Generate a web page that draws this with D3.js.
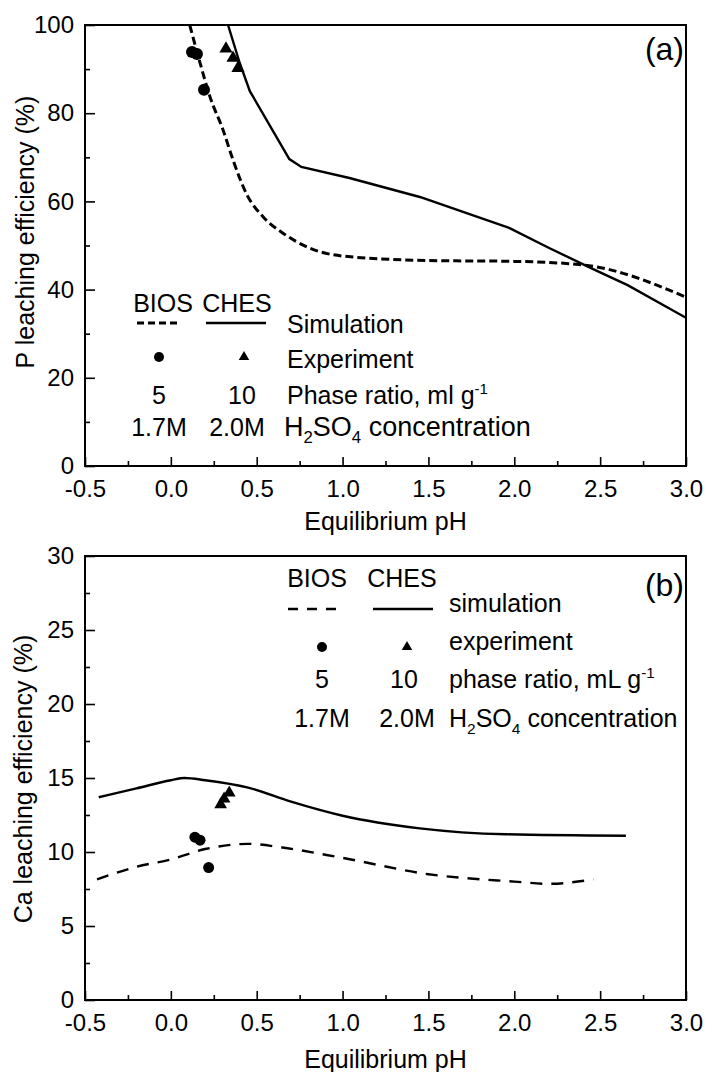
<!DOCTYPE html>
<html><head><meta charset="utf-8">
<script src="https://cdn.jsdelivr.net/npm/d3@7"></script>
<style>body{margin:0;background:#fff}svg{display:block;font-family:"Liberation Sans",Arial,sans-serif}</style>
</head><body><svg id="c" width="707" height="1072"></svg>
<script>
// ---- data ----
const xTicks = [-0.5, 0.0, 0.5, 1.0, 1.5, 2.0, 2.5, 3.0];
const yTicksA = [0, 20, 40, 60, 80, 100];
const yTicksB = [0, 5, 10, 15, 20, 25, 30];

// Panel (a) P leaching
const pA_chesSimPH = [0.333, 0.40, 0.46, 0.69, 0.76, 1.04, 1.45, 1.97, 2.2, 2.45, 2.66, 3.0];
const pA_chesSimY  = [100, 91.5, 85, 69.6, 67.8, 65.3, 61.0, 54.0, 49.5, 44.8, 41.0, 33.6];
const pA_biosSimPH = [0.11, 0.17, 0.228, 0.304, 0.362, 0.443, 0.537, 0.653, 0.81, 1.0, 1.5, 2.0, 2.4, 3.0];
const pA_biosSimY  = [100, 91.4, 83.7, 76.2, 69.4, 61.5, 56.5, 52.8, 49.4, 47.6, 46.6, 46.4, 45.6, 38.3];
const pA_biosExpPH = [0.123, 0.152, 0.193];
const pA_biosExpY  = [93.9, 93.4, 85.3];
const pA_chesExpPH = [0.321, 0.362, 0.391];
const pA_chesExpY  = [94.6, 92.5, 90.2];

// Panel (b) Ca leaching
const pB_chesSimPH = [-0.42, -0.2, 0.0, 0.08, 0.2, 0.45, 0.7, 1.0, 1.45, 1.95, 2.65];
const pB_chesSimY  = [13.7, 14.3, 14.85, 15.0, 14.85, 14.35, 13.4, 12.45, 11.6, 11.2, 11.1];
const pB_biosSimPH = [-0.43, -0.2, 0.0, 0.2, 0.45, 0.65, 1.0, 1.5, 2.0, 2.2, 2.46];
const pB_biosSimY  = [8.15, 9.0, 9.5, 10.2, 10.55, 10.3, 9.6, 8.5, 8.0, 7.85, 8.15];
const pB_biosExpPH = [0.14, 0.17, 0.22];
const pB_biosExpY  = [11.0, 10.8, 8.95];
const pB_chesExpPH = [0.29, 0.31, 0.34];
const pB_chesExpY  = [13.2, 13.6, 14.0];

const legendHeads = ["BIOS", "CHES"];
const legendA = ["Simulation", "Experiment", "Phase ratio, ml g", "concentration"];
const legendB = ["simulation", "experiment", "phase ratio, mL g", "concentration"];
const ratios = ["5", "10"];
const concs = ["1.7M", "2.0M"];

// ---- drawing ----
const svg = d3.select("#c");
const L = 85, R = 686;
const x = d3.scaleLinear().domain([-0.5, 3.0]).range([L, R]);
const xMinor = d3.range(-0.25, 3.0, 0.5);

function panel(cfg) {
  const y = d3.scaleLinear().domain(cfg.ydom).range([cfg.bottom, cfg.top]);
  const g = svg.append("g");
  const clipId = "clip" + cfg.id;
  svg.append("clipPath").attr("id", clipId).append("rect")
    .attr("x", L).attr("y", cfg.top).attr("width", R - L).attr("height", cfg.bottom - cfg.top);

  // axes
  const xa = g.append("g").attr("transform", `translate(0,${cfg.bottom})`)
    .call(d3.axisBottom(x).tickValues(xTicks).tickSizeInner(-9).tickSizeOuter(0).tickPadding(14)
      .tickFormat(d => d.toFixed(1)));
  g.append("g").attr("transform", `translate(0,${cfg.bottom})`)
    .call(d3.axisBottom(x).tickValues(xMinor).tickSizeInner(-5).tickSizeOuter(0).tickFormat(""));
  const ya = g.append("g").attr("transform", `translate(${L},0)`)
    .call(d3.axisLeft(y).tickValues(cfg.yticks).tickSizeInner(-10).tickSizeOuter(0).tickPadding(11));
  g.append("g").attr("transform", `translate(${L},0)`)
    .call(d3.axisLeft(y).tickValues(cfg.yminor).tickSizeInner(-5).tickSizeOuter(0).tickFormat(""));
  g.selectAll(".domain").remove();
  g.selectAll(".tick line").attr("stroke", "#000").attr("stroke-width", 1.6);
  g.selectAll(".tick text").attr("font-size", 24).attr("fill", "#000")
    .attr("font-family", '"Liberation Sans",Arial,sans-serif');

  // frame
  g.append("rect").attr("x", L).attr("y", cfg.top).attr("width", R - L).attr("height", cfg.bottom - cfg.top)
    .attr("fill", "none").attr("stroke", "#000").attr("stroke-width", 2);

  // titles
  g.append("text").attr("x", (L + R) / 2).attr("y", cfg.xTitleY).attr("text-anchor", "middle")
    .attr("font-size", 25).text("Equilibrium pH");
  g.append("text").attr("transform", `translate(${cfg.yTitleX},${cfg.yTitleC}) rotate(-90)`)
    .attr("text-anchor", "middle").attr("font-size", 25).text(cfg.ytitle);
  g.append("text").attr("x", 684).attr("y", cfg.tagY).attr("text-anchor", "end")
    .attr("font-size", 32).text(cfg.tag);

  const plot = g.append("g").attr("clip-path", `url(#${clipId})`);
  const mk = (px, py) => px.map((v, i) => [v, py[i]]);
  const solid = d3.line().x(d => x(d[0])).y(d => y(d[1])).curve(cfg.solidCurve);
  const dash = d3.line().x(d => x(d[0])).y(d => y(d[1])).curve(d3.curveMonotoneX);
  plot.append("path").attr("d", dash(mk(cfg.biosPH, cfg.biosY))).attr("fill", "none")
    .attr("stroke", "#000").attr("stroke-width", cfg.dashW).attr("stroke-dasharray", cfg.dashArr);
  plot.append("path").attr("d", solid(mk(cfg.chesPH, cfg.chesY))).attr("fill", "none")
    .attr("stroke", "#000").attr("stroke-width", 2.4);
  plot.selectAll(".c").data(mk(cfg.bExpPH, cfg.bExpY)).join("circle")
    .attr("cx", d => x(d[0])).attr("cy", d => y(d[1])).attr("r", cfg.dotR).attr("fill", "#000");
  const tri = d3.symbol().type(d3.symbolTriangle).size(cfg.triS);
  plot.selectAll(".t").data(mk(cfg.cExpPH, cfg.cExpY)).join("path")
    .attr("d", tri).attr("transform", d => `translate(${x(d[0])},${y(d[1])})`).attr("fill", "#000");

  // legend
  const lg = cfg.lg;
  const lt = (xx, yy, s, anchor, fs) => g.append("text").attr("x", xx).attr("y", yy)
    .attr("text-anchor", anchor || "start").attr("font-size", fs || 25).text(s);
  lt(lg.c1, lg.headY, legendHeads[0], "middle");
  lt(lg.c2, lg.headY, legendHeads[1], "middle");
  g.append("line").attr("x1", lg.d1[0]).attr("x2", lg.d1[1]).attr("y1", lg.lineY).attr("y2", lg.lineY)
    .attr("stroke", "#000").attr("stroke-width", cfg.dashW).attr("stroke-dasharray", lg.dashArr);
  g.append("line").attr("x1", lg.s1[0]).attr("x2", lg.s1[1]).attr("y1", lg.lineY).attr("y2", lg.lineY)
    .attr("stroke", "#000").attr("stroke-width", 2.4);
  lt(lg.tx, lg.simY, cfg.labels[0]);
  g.append("circle").attr("cx", lg.c1m).attr("cy", lg.expMY).attr("r", 5).attr("fill", "#000");
  g.append("path").attr("d", d3.symbol().type(d3.symbolTriangle).size(48)())
    .attr("transform", `translate(${lg.c2m},${lg.expMY})`).attr("fill", "#000");
  lt(lg.tx, lg.expY, cfg.labels[1]);
  lt(lg.c1m, lg.ratioY, ratios[0], "middle");
  lt(lg.c2r, lg.ratioY, ratios[1], "middle");
  const pr = lt(lg.tx, lg.ratioY, cfg.labels[2]);
  pr.append("tspan").attr("dy", -10).attr("font-size", 15).text("-1");
  lt(lg.c1m, lg.concY, concs[0], "middle");
  lt(lg.c2c, lg.concY, concs[1], "middle");
  const h = lt(lg.hx, lg.concY, "H", "start", lg.hfs);
  h.append("tspan").attr("dy", 7).attr("font-size", lg.hfs * 0.62).text("2");
  h.append("tspan").attr("dy", -7).text("SO");
  h.append("tspan").attr("dy", 7).attr("font-size", lg.hfs * 0.62).text("4");
  h.append("tspan").attr("dy", -7).text(" " + cfg.labels[3]);
}

panel({
  id: "a", top: 25, bottom: 466, ydom: [0, 100], yticks: yTicksA, yminor: d3.range(10, 100, 20),
  xTitleY: 530, yTitleX: 34, yTitleC: 232, ytitle: "P leaching efficiency (%)", tag: "(a)", tagY: 60,
  chesPH: pA_chesSimPH, chesY: pA_chesSimY, biosPH: pA_biosSimPH, biosY: pA_biosSimY,
  bExpPH: pA_biosExpPH, bExpY: pA_biosExpY, cExpPH: pA_chesExpPH, cExpY: pA_chesExpY,
  solidCurve: d3.curveLinear, dashW: 3, dashArr: "8,4", dotR: 6, triS: 75,
  labels: legendA,
  lg: { c1: 163, c2: 237, headY: 312, lineY: 323, d1: [137, 180], s1: [206, 266], dashArr: "7,4",
        tx: 287, simY: 333, c1m: 159, c2m: 244, expMY: 357, expY: 368, c2r: 242, ratioY: 404,
        c2c: 237, concY: 436, hx: 284, hfs: 27 }
});

panel({
  id: "b", top: 556, bottom: 1000, ydom: [0, 30], yticks: yTicksB, yminor: d3.range(2.5, 30, 5),
  xTitleY: 1068, yTitleX: 32, yTitleC: 779, ytitle: "Ca leaching efficiency (%)", tag: "(b)", tagY: 596,
  chesPH: pB_chesSimPH, chesY: pB_chesSimY, biosPH: pB_biosSimPH, biosY: pB_biosSimY,
  bExpPH: pB_biosExpPH, bExpY: pB_biosExpY, cExpPH: pB_chesExpPH, cExpY: pB_chesExpY,
  solidCurve: d3.curveMonotoneX, dashW: 2.4, dashArr: "12,9", dotR: 5.5, triS: 70,
  labels: legendB,
  lg: { c1: 317, c2: 402, headY: 587, lineY: 609, d1: [288, 342], s1: [373, 433], dashArr: "10,9",
        tx: 449, simY: 612, c1m: 322, c2m: 407, expMY: 647, expY: 650, c2r: 404, ratioY: 688,
        c2c: 407, concY: 727, hx: 449, hfs: 25 }
});
</script></body></html>
